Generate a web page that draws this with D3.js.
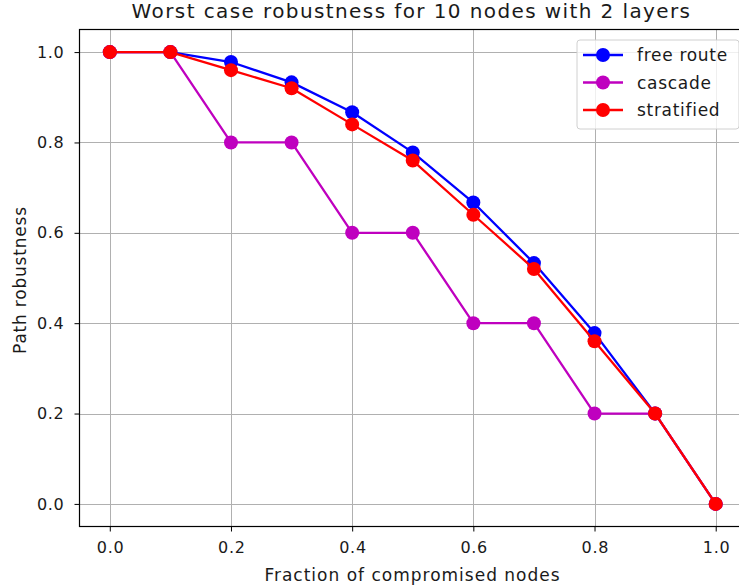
<!DOCTYPE html>
<html>
<head>
<meta charset="utf-8">
<script src="https://cdn.jsdelivr.net/npm/d3@7"></script>
<style>
  html, body { margin: 0; padding: 0; background: #fff; }
  svg { display: block; font-family: "DejaVu Sans", sans-serif; }
</style>
</head>
<body>
<svg id="chart" width="739" height="588"></svg>
<script>
// Fraction of compromised nodes (x) and path robustness per routing topology
const fractions = [0.0, 0.1, 0.2, 0.3, 0.4, 0.5, 0.6, 0.7, 0.8, 0.9, 1.0];
const freeRoute = [1.0, 1.0, 0.978, 0.933, 0.867, 0.778, 0.667, 0.533, 0.378, 0.2, 0.0];
const cascade   = [1.0, 1.0, 0.8, 0.8, 0.6, 0.6, 0.4, 0.4, 0.2, 0.2, 0.0];
const stratified = [1.0, 1.0, 0.96, 0.92, 0.84, 0.76, 0.64, 0.52, 0.36, 0.2, 0.0];
const seriesNames = ["free route", "cascade", "stratified"];
const seriesColors = ["#0000ff", "#bf00bf", "#ff0000"];
const xTicks = [0.0, 0.2, 0.4, 0.6, 0.8, 1.0];
const yTicks = [0.0, 0.2, 0.4, 0.6, 0.8, 1.0];

const series = [freeRoute, cascade, stratified].map((vals, i) => ({
  name: seriesNames[i],
  color: seriesColors[i],
  points: vals.map((v, j) => [fractions[j], v])
}));

const svg = d3.select("#chart");
const plotLeft = 79.5, plotRight = 746, plotTop = 29.5, plotBottom = 526.5;
const textColor = "#1a1a1a";

const x = d3.scaleLinear().domain([-0.05, 1.05]).range([plotLeft, plotRight]);
const y = d3.scaleLinear().domain([-0.05, 1.05]).range([plotBottom, plotTop]);

// grid
const grid = svg.append("g").attr("stroke", "#b0b0b0").attr("stroke-width", 1);
xTicks.forEach(t => {
  const px = Math.round(x(t)) + 0.5;
  grid.append("line").attr("x1", px).attr("x2", px).attr("y1", plotTop).attr("y2", plotBottom);
});
yTicks.forEach(t => {
  const py = Math.round(y(t)) + 0.5;
  grid.append("line").attr("x1", plotLeft).attr("x2", plotRight).attr("y1", py).attr("y2", py);
});

// axes
const xAxis = d3.axisBottom(x).tickValues(xTicks).tickFormat(d3.format(".1f")).tickSize(5).tickPadding(10);
const yAxis = d3.axisLeft(y).tickValues(yTicks).tickFormat(d3.format(".1f")).tickSize(5).tickPadding(10);

const gx = svg.append("g").attr("transform", `translate(0,${plotBottom})`).call(xAxis);
const gy = svg.append("g").attr("transform", `translate(${plotLeft},0)`).call(yAxis);
[gx, gy].forEach(g => {
  g.select(".domain").remove();
  g.selectAll(".tick line").attr("stroke", "#000").attr("stroke-width", 1);
  g.selectAll(".tick text").attr("fill", textColor)
    .style("font-size", "16px").style("font-family", "DejaVu Sans").style("letter-spacing", "0.7px");
});
gx.selectAll(".tick text").attr("dx", "0.35px");

// lines and markers
const line = d3.line().x(d => x(d[0])).y(d => y(d[1]));
series.forEach(s => {
  const g = svg.append("g");
  g.append("path").attr("d", line(s.points)).attr("fill", "none")
    .attr("stroke", s.color).attr("stroke-width", 2.3).attr("stroke-linejoin", "round");
  g.selectAll("circle").data(s.points).join("circle")
    .attr("cx", d => x(d[0])).attr("cy", d => y(d[1])).attr("r", 7).attr("fill", s.color);
});

// spines
svg.append("rect").attr("x", plotLeft).attr("y", plotTop)
  .attr("width", plotRight - plotLeft).attr("height", plotBottom - plotTop)
  .attr("fill", "none").attr("stroke", "#000").attr("stroke-width", 1.2);

// title and axis labels
svg.append("text").attr("x", 411.5).attr("y", 18).attr("text-anchor", "middle")
  .style("font-size", "20px").style("letter-spacing", "1.4px").attr("fill", textColor)
  .text("Worst case robustness for 10 nodes with 2 layers");
svg.append("text").attr("x", 412.5).attr("y", 581).attr("text-anchor", "middle")
  .style("font-size", "17px").style("letter-spacing", "1px").attr("fill", textColor)
  .text("Fraction of compromised nodes");
svg.append("text").attr("transform", `translate(26,${280}) rotate(-90)`)
  .attr("text-anchor", "middle")
  .style("font-size", "17px").style("letter-spacing", "0.8px").attr("fill", textColor)
  .text("Path robustness");

// legend
const lg = svg.append("g").attr("transform", "translate(577,40)");
lg.append("rect").attr("width", 162).attr("height", 89).attr("rx", 3)
  .attr("fill", "rgba(255,255,255,0.8)").attr("stroke", "#d0d0d0");
series.forEach((s, i) => {
  const cy = 15 + i * 27.5;
  lg.append("line").attr("x1", 6).attr("x2", 46).attr("y1", cy).attr("y2", cy)
    .attr("stroke", s.color).attr("stroke-width", 2.3);
  lg.append("circle").attr("cx", 26).attr("cy", cy).attr("r", 7).attr("fill", s.color);
  lg.append("text").attr("x", 60).attr("y", cy + 6).style("font-size", "17px")
    .style("letter-spacing", "0.7px").attr("fill", textColor).text(s.name);
});
</script>
</body>
</html>
